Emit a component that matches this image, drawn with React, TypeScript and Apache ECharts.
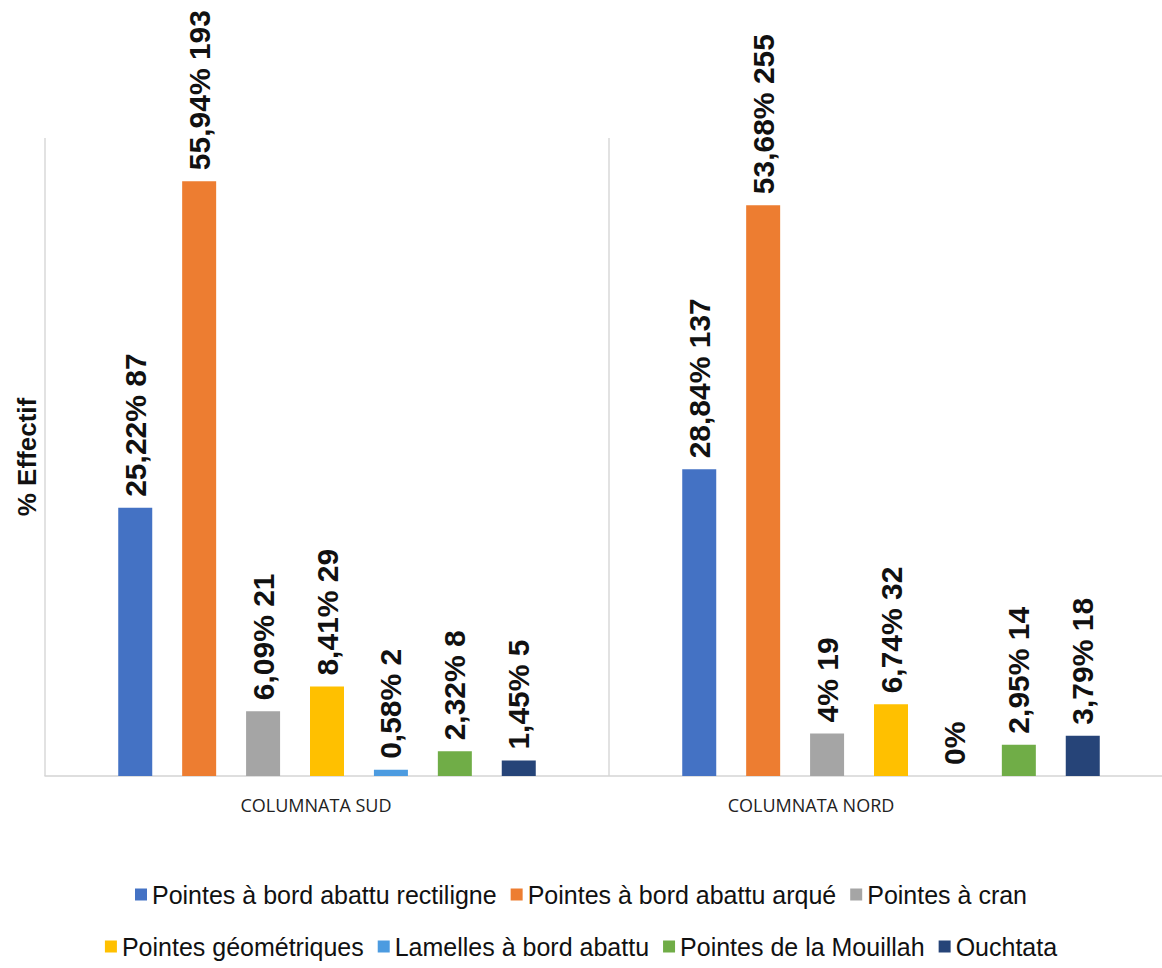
import React, { useEffect, useRef } from "react";
import * as echarts from "echarts";

const categories = ["COLUMNATA SUD", "COLUMNATA NORD"];
const seriesNames = [
  "Pointes à bord abattu rectiligne",
  "Pointes à bord abattu arqué",
  "Pointes à cran",
  "Pointes géométriques",
  "Lamelles à bord abattu",
  "Pointes de la Mouillah",
  "Ouchtata",
];
const sudPercent = [25.22, 55.94, 6.09, 8.41, 0.58, 2.32, 1.45];
const sudCount = [87, 193, 21, 29, 2, 8, 5];
const nordPercent = [28.84, 53.68, 4, 6.74, 0, 2.95, 3.79];
const nordCount = [137, 255, 19, 32, 0, 14, 18];
const colors = ["#4472C4", "#ED7D31", "#A5A5A5", "#FFC000", "#4C9BE0", "#70AD47", "#264478"];

const fmt = (v: number) => String(v).replace(".", ",");

export default function App() {
  const ref = useRef<HTMLDivElement>(null);
  useEffect(() => {
    if (!ref.current) return;
    const chart = echarts.init(ref.current, undefined, { renderer: "svg" });
    const counts = [sudCount, nordCount];
    const series = seriesNames.map((name, i) => ({
      name,
      type: "bar",
      data: [sudPercent[i], nordPercent[i]],
      barWidth: 34,
      barGap: "88%",
      itemStyle: { color: colors[i] },
      label: {
        show: true,
        position: "top",
        rotate: 90,
        align: "left",
        verticalAlign: "middle",
        distance: 11,
        fontFamily: "'Liberation Sans', Arial, sans-serif",
        fontWeight: "bold",
        fontSize: 30,
        color: "#111",
        formatter: (p: any) => {
          const c = counts[p.dataIndex][i];
          return c > 0 ? `${fmt(p.value)}% ${c}` : `${fmt(p.value)}%`;
        },
      },
    }));
    const legendText = { fontFamily: "'Liberation Sans', Arial, sans-serif", fontSize: 25, color: "#111" };
    chart.setOption({
      animation: false,
      backgroundColor: "#ffffff",
      color: colors,
      grid: { left: 45, top: 138, width: 1128, height: 638, outerBoundsMode: "none", containLabel: false },
      xAxis: {
        type: "category",
        data: categories,
        axisLine: { show: true, lineStyle: { color: "#d4d4d4", width: 1.5 } },
        axisTick: { show: false },
        splitLine: { show: true, lineStyle: { color: "#d9d9d9", width: 1.5 } },
        axisLabel: {
          margin: 20,
          fontFamily: "'Open Sans', sans-serif",
          fontSize: 18,
          color: "#222",
          formatter: (v: string, idx: number) => (idx === 0 ? `{s|${v}}` : `{n|${v}}`),
          rich: {
            s: { fontFamily: "'Open Sans', sans-serif", fontSize: 18, color: "#222", padding: [0, 22, 0, 0] },
            n: { fontFamily: "'Open Sans', sans-serif", fontSize: 18, color: "#222", padding: [0, 160, 0, 0] },
          },
        },
      },
      yAxis: {
        type: "value",
        min: 0,
        max: 60,
        axisLine: { show: false },
        axisTick: { show: false },
        axisLabel: { show: false },
        splitLine: { show: false },
        name: "% Effectif",
        nameLocation: "middle",
        nameGap: 5,
        nameTextStyle: {
          fontFamily: "'Liberation Sans', Arial, sans-serif",
          fontWeight: "bold",
          fontSize: 26,
          color: "#111",
        },
      },
      legend: [
        {
          data: seriesNames.slice(0, 3),
          left: "center",
          top: 877,
          icon: "rect",
          itemWidth: 12,
          itemHeight: 12,
          itemGap: 14,
          textStyle: legendText,
        },
        {
          data: seriesNames.slice(3),
          left: "center",
          top: 929,
          icon: "rect",
          itemWidth: 12,
          itemHeight: 12,
          itemGap: 14,
          textStyle: legendText,
        },
      ],
      series,
    });
    return () => chart.dispose();
  }, []);
  return <div ref={ref} style={{ position: "absolute", left: 0, top: 0, width: 1162, height: 968 }} />;
}
